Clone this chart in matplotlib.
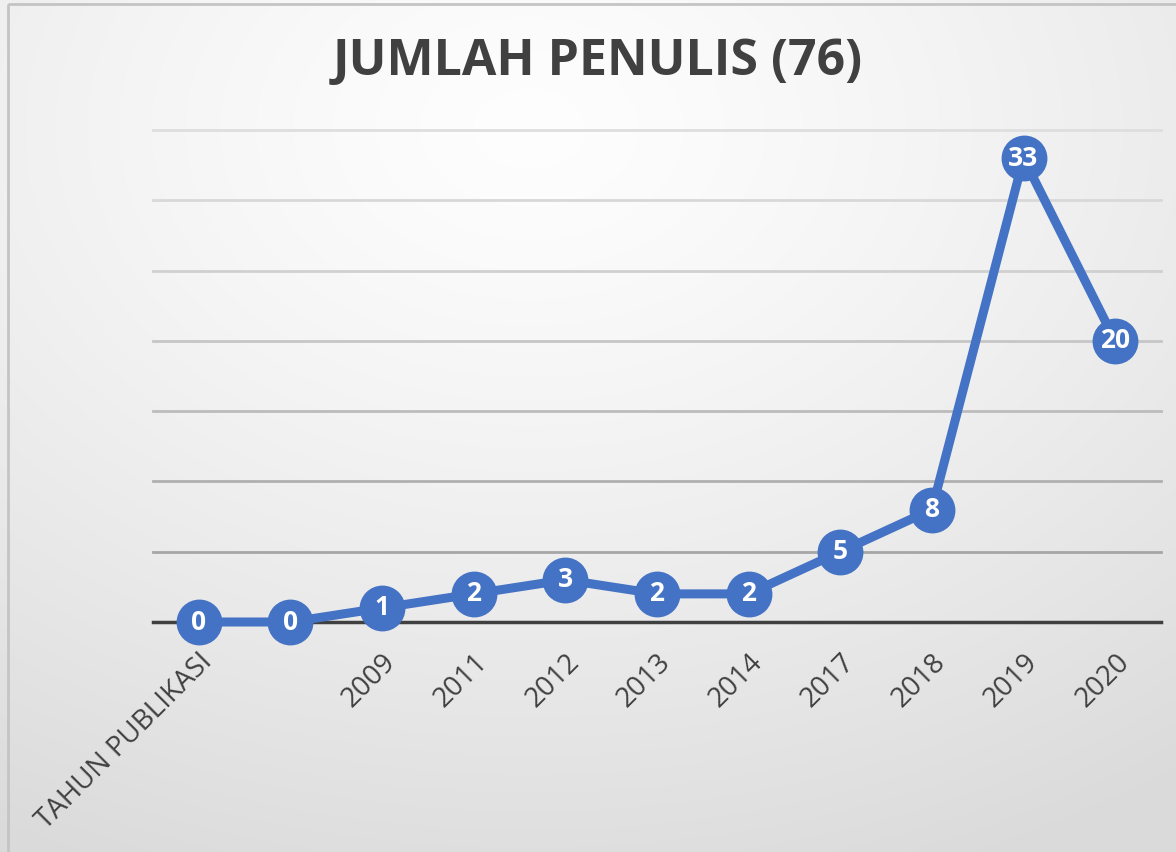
import numpy as np
import matplotlib
matplotlib.use("Agg")
import matplotlib.pyplot as plt
from matplotlib.patches import Rectangle

# data
categories = ["TAHUN PUBLIKASI", "", "2009", "2011", "2012", "2013", "2014",
              "2017", "2018", "2019", "2020"]
values = [0, 0, 1, 2, 3, 2, 2, 5, 8, 33, 20]
title = "JUMLAH PENULIS (76)"

W, H = 1176, 852
fig = plt.figure(figsize=(W / 100, H / 100), dpi=100)

# background gradient (Excel style radial fill)
bg = fig.add_axes([0, 0, 1, 1], zorder=0)
yy, xx = np.mgrid[0:1:300j, 0:1:400j]
r = np.sqrt(((xx - 0.45) / 1.0) ** 2 + ((yy - 0.15) / 1.0) ** 2)
r = np.clip(r / 0.95, 0, 1)
g = 0.995 - 0.14 * r ** 1.3
bg.imshow(np.dstack([g, g, g]), extent=[0, 1, 1, 0], aspect="auto")
bg.set_xlim(0, 1)
bg.set_ylim(1, 0)
bg.axis("off")
bg.add_patch(Rectangle((8 / W, 4 / H), 1.0, 1.0, fill=False,
                       edgecolor="#c4c4c4", linewidth=2))

ax = fig.add_axes([153 / W, 1 - 622 / H, (1161 - 153) / W, (622 - 130) / H], zorder=1)
ax.patch.set_alpha(0)

x = np.arange(len(categories))
ax.set_xlim(-0.5, len(categories) - 0.5)
ax.set_ylim(0, 35)

# gridlines, getting darker toward the bottom
grid_vals = [5, 10, 15, 20, 25, 30, 35]
grid_cols = ["#a6a6a6", "#b0b0b0", "#bcbcbc", "#c6c6c6", "#d0d0d0", "#d8d8d8", "#dedede"]
for gv, gc in zip(grid_vals, grid_cols):
    ax.axhline(gv, color=gc, linewidth=2, zorder=1, clip_on=False)
ax.axhline(0, color="#404040", linewidth=2.5, zorder=2, clip_on=False)

ax.plot(x, values, color="#4472c4", linewidth=6.5, marker="o", markersize=32,
        markerfacecolor="#4472c4", markeredgecolor="#4472c4", zorder=3, clip_on=False)
for xi, v in zip(x, values):
    ax.text(xi, v, str(v), color="white", fontsize=19, fontweight="bold",
            family="Open Sans", ha="center", va="center", zorder=4)

for s in ax.spines.values():
    s.set_visible(False)
ax.set_yticks([])
ax.set_xticks(x)
ax.set_xticklabels(categories, rotation=45, ha="right", va="top",
                   rotation_mode="anchor", fontsize=20, color="#404040",
                   family="Open Sans")
ax.tick_params(axis="x", length=0, pad=19)

fig.text(598 / W, 1 - 62 / H, title, ha="center", va="center", fontsize=36,
         fontweight="bold", color="#404040", family="Open Sans")

fig.savefig("out.png", dpi=100)
